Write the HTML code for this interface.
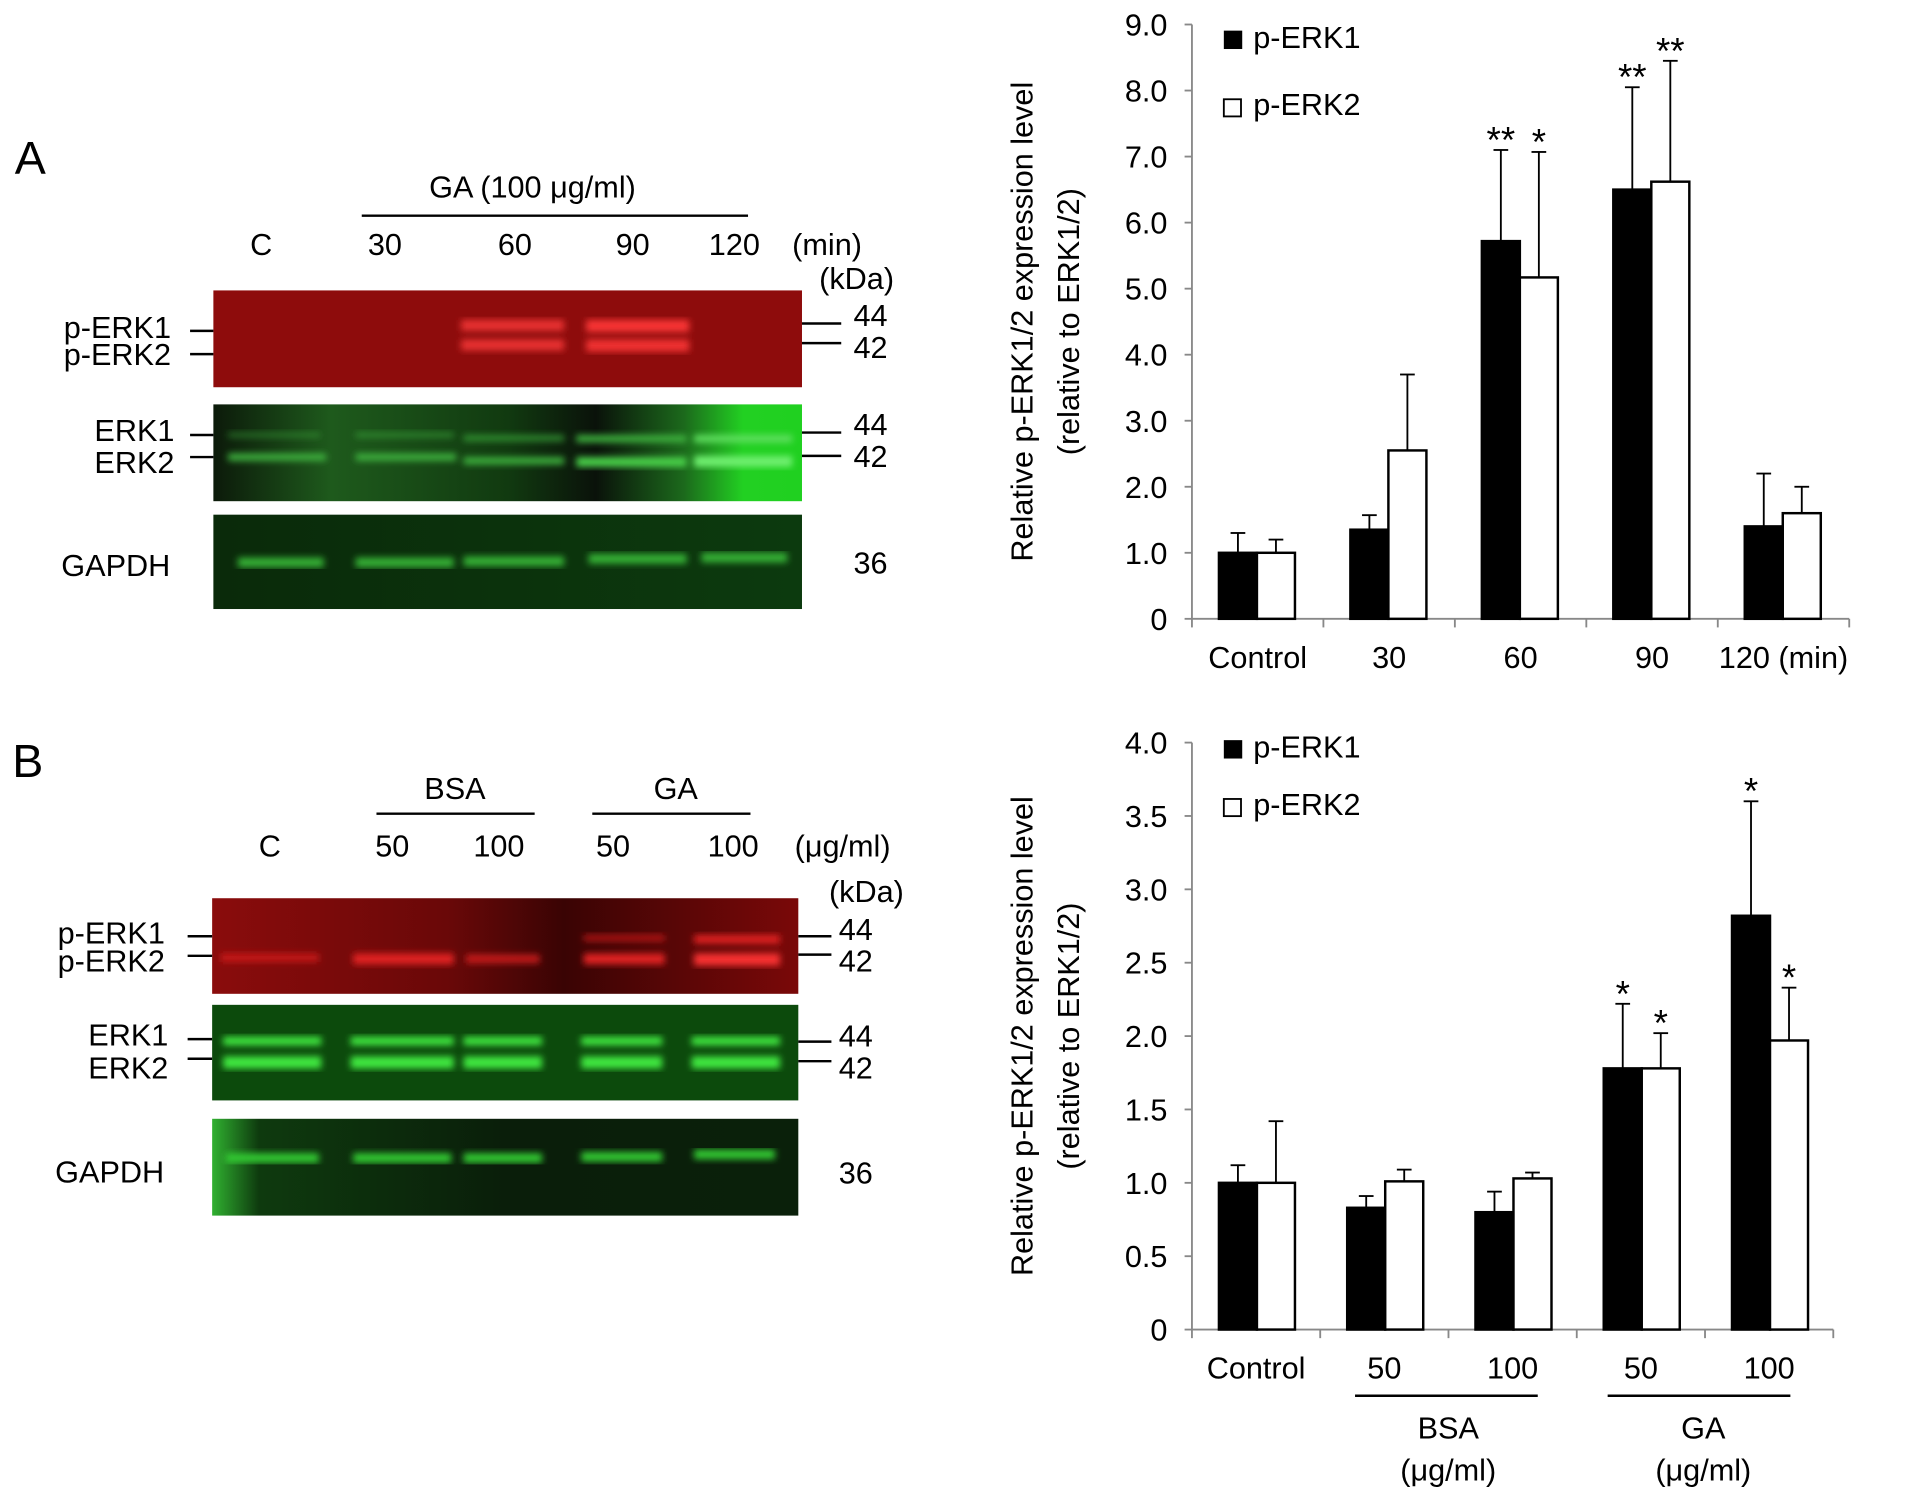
<!DOCTYPE html>
<html><head><meta charset="utf-8"><style>
html,body{margin:0;padding:0;background:#fff;}
svg{display:block;font-family:"Liberation Sans",sans-serif;}
</style></head><body>
<svg id="fig" width="1913" height="1495" viewBox="0 0 1560 1220" preserveAspectRatio="none" xmlns="http://www.w3.org/2000/svg">
<defs>
<filter id="blur2"><feGaussianBlur stdDeviation="2.8"/></filter>
<linearGradient id="gERKa" x1="0" x2="1" y1="0" y2="0">
<stop offset="0" stop-color="#0c1a0a"/><stop offset="0.2" stop-color="#1e5a1c"/><stop offset="0.5" stop-color="#113a10"/><stop offset="0.65" stop-color="#0a120a"/><stop offset="0.8" stop-color="#1c6a1c"/><stop offset="0.9" stop-color="#22d022"/><stop offset="1" stop-color="#20d020"/></linearGradient>
<linearGradient id="gGapA" x1="0" x2="1"><stop offset="0" stop-color="#0a2a0a"/><stop offset="1" stop-color="#0c3a0e"/></linearGradient>
<linearGradient id="gRedB" x1="0" x2="1"><stop offset="0" stop-color="#8a0c0c"/><stop offset="0.4" stop-color="#6a0808"/><stop offset="0.6" stop-color="#3a0404"/><stop offset="1" stop-color="#7a0808"/></linearGradient>
<linearGradient id="gGapB" x1="0" x2="1"><stop offset="0" stop-color="#30b030"/><stop offset="0.08" stop-color="#0e3a0e"/><stop offset="0.5" stop-color="#0a1e0a"/><stop offset="1" stop-color="#0a200a"/></linearGradient>
</defs>

<text x="12" y="142" font-size="38">A</text>
<text x="350" y="161" font-size="25">GA (100 μg/ml)</text>
<line x1="295" y1="176" x2="610" y2="176" stroke="#000" stroke-width="2"/>
<g font-size="25">
<text x="204" y="208">C</text><text x="300" y="208">30</text><text x="406" y="208">60</text><text x="502" y="208">90</text><text x="578" y="208">120</text><text x="646" y="208">(min)</text><text x="668" y="236">(kDa)</text>
</g>
<rect x="174" y="237" width="480" height="79" fill="#8e0c0c"/>
<g filter="url(#blur2)">
<rect x="376" y="261" width="84" height="9" fill="#e83030"/><rect x="376" y="277" width="84" height="9" fill="#e83030"/>
<rect x="478" y="261" width="84" height="10" fill="#f83434"/><rect x="478" y="277" width="84" height="10" fill="#f03030"/>
</g>
<rect x="174" y="330" width="480" height="79" fill="url(#gERKa)"/>
<g filter="url(#blur2)" fill="#3cb03c">
<rect x="186" y="353" width="75" height="4" opacity="0.5"/><rect x="186" y="370" width="80" height="6"/>
<rect x="290" y="353" width="80" height="4" opacity="0.6"/><rect x="290" y="370" width="82" height="6"/>
<rect x="378" y="355" width="82" height="5" opacity="0.7"/><rect x="378" y="373" width="82" height="6"/>
<rect x="470" y="355" width="90" height="6"/><rect x="470" y="373" width="90" height="8" fill="#48d048"/>
<rect x="566" y="355" width="80" height="6" fill="#60e060"/><rect x="566" y="372" width="80" height="9" fill="#70f070"/>
</g>
<rect x="174" y="420" width="480" height="77" fill="url(#gGapA)"/>
<g filter="url(#blur2)" fill="#34b034">
<rect x="194" y="455" width="70" height="8"/><rect x="290" y="455" width="80" height="8"/><rect x="378" y="454" width="82" height="8"/><rect x="480" y="452" width="80" height="8"/><rect x="572" y="451" width="70" height="8"/>
</g>
<g font-size="25">
<text x="52" y="276">p-ERK1</text><text x="52" y="298">p-ERK2</text>
<text x="77" y="360">ERK1</text><text x="77" y="386">ERK2</text>
<text x="50" y="470">GAPDH</text>
<text x="696" y="266">44</text><text x="696" y="292">42</text>
<text x="696" y="355">44</text><text x="696" y="381">42</text>
<text x="696" y="468">36</text>
</g>
<g stroke="#000" stroke-width="2">
<line x1="155" y1="270" x2="174" y2="270"/><line x1="155" y1="289" x2="174" y2="289"/>
<line x1="155" y1="355" x2="174" y2="355"/><line x1="155" y1="373" x2="174" y2="373"/>
<line x1="654" y1="264" x2="686" y2="264"/><line x1="654" y1="280" x2="686" y2="280"/>
<line x1="654" y1="353" x2="686" y2="353"/><line x1="654" y1="372" x2="686" y2="372"/>
</g>

<text x="10" y="634" font-size="38">B</text>
<g font-size="25">
<text x="346" y="652">BSA</text><text x="533" y="652">GA</text>
</g>
<line x1="307" y1="664" x2="436" y2="664" stroke="#000" stroke-width="2"/>
<line x1="483" y1="664" x2="612" y2="664" stroke="#000" stroke-width="2"/>
<g font-size="25">
<text x="211" y="699">C</text><text x="306" y="699">50</text><text x="386" y="699">100</text><text x="486" y="699">50</text><text x="577" y="699">100</text><text x="648" y="699">(μg/ml)</text><text x="676" y="736">(kDa)</text>
</g>
<rect x="173" y="733" width="478" height="78" fill="url(#gRedB)"/>
<g filter="url(#blur2)" fill="#e02020">
<rect x="180" y="778" width="80" height="7" opacity="0.7"/><rect x="288" y="778" width="82" height="9"/><rect x="380" y="779" width="60" height="7" opacity="0.8"/>
<rect x="476" y="763" width="66" height="5" opacity="0.7"/><rect x="476" y="778" width="66" height="9"/>
<rect x="566" y="763" width="70" height="7"/><rect x="566" y="778" width="70" height="10" fill="#f83030"/>
</g>
<rect x="173" y="820" width="478" height="78" fill="#0c4a0c"/>
<g filter="url(#blur2)" fill="#40e840">
<rect x="182" y="846" width="80" height="7"/><rect x="182" y="862" width="80" height="10"/>
<rect x="286" y="846" width="84" height="7"/><rect x="286" y="862" width="84" height="10"/>
<rect x="378" y="846" width="64" height="7"/><rect x="378" y="862" width="64" height="10"/>
<rect x="474" y="846" width="66" height="7"/><rect x="474" y="862" width="66" height="10"/>
<rect x="564" y="846" width="72" height="7"/><rect x="564" y="862" width="72" height="10"/>
</g>
<rect x="173" y="913" width="478" height="79" fill="url(#gGapB)"/>
<g filter="url(#blur2)" fill="#30c830">
<rect x="184" y="941" width="76" height="8"/><rect x="288" y="941" width="80" height="8"/><rect x="378" y="941" width="64" height="8"/><rect x="474" y="940" width="66" height="8"/><rect x="566" y="938" width="66" height="8"/>
</g>
<g font-size="25">
<text x="47" y="770">p-ERK1</text><text x="47" y="793">p-ERK2</text>
<text x="72" y="853">ERK1</text><text x="72" y="880">ERK2</text>
<text x="45" y="965">GAPDH</text>
<text x="684" y="767">44</text><text x="684" y="793">42</text>
<text x="684" y="854">44</text><text x="684" y="880">42</text>
<text x="684" y="966">36</text>
</g>
<g stroke="#000" stroke-width="2">
<line x1="153" y1="764" x2="173" y2="764"/><line x1="153" y1="780" x2="173" y2="780"/>
<line x1="153" y1="848" x2="173" y2="848"/><line x1="153" y1="864" x2="173" y2="864"/>
<line x1="651" y1="764" x2="678" y2="764"/><line x1="651" y1="779" x2="678" y2="779"/>
<line x1="651" y1="850" x2="678" y2="850"/><line x1="651" y1="866" x2="678" y2="866"/>
</g>

<g id="chartA"></g>
<g id="chartB"></g>
</svg>
<script>
// Chart A data
const catsA = ["Control","30","60","90","120 (min)"];
const erk1A = [1.0, 1.35, 5.72, 6.5, 1.4];
const erk2A = [1.0, 2.55, 5.17, 6.62, 1.6];
const err1A = [0.3, 0.22, 1.38, 1.55, 0.8];
const err2A = [0.2, 1.15, 1.9, 1.83, 0.4];
const star1A = ["", "", "**", "**", ""];
const star2A = ["", "", "*", "**", ""];
const ticksA = [0,1,2,3,4,5,6,7,8,9];
const tickLabelsA = ["0","1.0","2.0","3.0","4.0","5.0","6.0","7.0","8.0","9.0"];
// Chart B data
const catsB = ["Control","50","100","50","100"];
const erk1B = [1.0, 0.83, 0.8, 1.78, 2.82];
const erk2B = [1.0, 1.01, 1.03, 1.78, 1.97];
const err1B = [0.12, 0.08, 0.14, 0.44, 0.78];
const err2B = [0.42, 0.08, 0.04, 0.24, 0.36];
const star1B = ["", "", "", "*", "*"];
const star2B = ["", "", "", "*", "*"];
const ticksB = [0,0.5,1,1.5,2,2.5,3,3.5,4];
const tickLabelsB = ["0","0.5","1.0","1.5","2.0","2.5","3.0","3.5","4.0"];

const NS = "http://www.w3.org/2000/svg";
function mk(parent, tag, attrs, text){
  const e = document.createElementNS(NS, tag);
  for (const k in attrs) e.setAttribute(k, attrs[k]);
  if (text !== undefined) e.textContent = text;
  parent.appendChild(e);
  return e;
}
function draw(g, cfg){
  const {x0,x1,y0,y1,vmax,cats,s1,s2,e1,e2,st1,st2,ticks,tlabels} = cfg;
  const ys = v => y0 - (v / vmax) * (y0 - y1);
  const cw = (x1 - x0) / cats.length;
  const bw = 31;
  let ax = mk(g,'line',{x1:x0,y1:y1,x2:x0,y2:y0,stroke:'#888','stroke-width':1.5});
  
  
  let bx = mk(g,'line',{x1:x0,y1:y0,x2:x1,y2:y0,stroke:'#888','stroke-width':1.5});
  
  
  ticks.forEach((t,i)=>{
    const y = ys(t);
    const tk = mk(g,'line',{x1:x0-6,y1:y,x2:x0,y2:y,stroke:'#888','stroke-width':1.5});
    
    
    const lb = mk(g,'text',{x:x0-20,y:y+9,'font-size':25,'text-anchor':'end'}, tlabels[i]);
    
    
  });
  for (let i=0;i<=cats.length;i++){
    const x = x0 + i*cw;
    const tk = mk(g,'line',{x1:x,y1:y0,x2:x,y2:y0+7,stroke:'#888','stroke-width':1.5});
    
    
  }
  cats.forEach((c,i)=>{
    const bx1 = x0 + i*cw + 22, bx2 = bx1 + bw;
    const series = [[bx1,s1[i],e1[i],'#000',st1[i],'bar-perk1'],[bx2,s2[i],e2[i],'#fff',st2[i],'bar-perk2']];
    series.forEach(([bx,v,e,fill,st,nm])=>{
      const top = ys(v), et = ys(v+e), cx = bx + bw/2;
      const el = mk(g,'line',{x1:cx,y1:top,x2:cx,y2:et,stroke:'#000','stroke-width':1.5});
      
      
      const ec = mk(g,'line',{x1:cx-6,y1:et,x2:cx+6,y2:et,stroke:'#000','stroke-width':1.5});
      
      
      const r = mk(g,'rect',{x:bx,y:top,width:bw,height:y0-top,fill:fill,stroke:'#000','stroke-width':2});
      
      
      if (st){
        const s = mk(g,'text',{x:cx,y:et+2,'font-size':30,'text-anchor':'middle'}, st);
        
        
      }
    });
    const lbl = mk(g,'text',{x:x0+i*cw+cw/2,y:y0+40,'font-size':25,'text-anchor':'middle'}, c);
    
    
  });
  const lg = cfg.legendY;
  const l1 = mk(g,'rect',{x:998,y:lg-10,width:15,height:15,fill:'#000'});
  
  
  const t1 = mk(g,'text',{x:1022,y:lg+4,'font-size':25},'p-ERK1');
  
  
  const l2 = mk(g,'rect',{x:998,y:lg+cfg.legendGap-9,width:14,height:14,fill:'#fff',stroke:'#000','stroke-width':1.5});
  
  
  const t2 = mk(g,'text',{x:1022,y:lg+cfg.legendGap+4,'font-size':25},'p-ERK2');
  
  
  const cy = (y0+y1)/2;
  const yt = mk(g,'text',{x:0,y:0,'font-size':25,'text-anchor':'middle',transform:`translate(842,${cy}) rotate(-90)`},'Relative p-ERK1/2 expression level');
  
  
  const yt2 = mk(g,'text',{x:0,y:0,'font-size':25,'text-anchor':'middle',transform:`translate(880,${cy}) rotate(-90)`},'(relative to ERK1/2)');
  
  
}
draw(document.getElementById('chartA'),{x0:972,x1:1508,y0:505,y1:20,vmax:9,cats:catsA,s1:erk1A,s2:erk2A,e1:err1A,e2:err2A,st1:star1A,st2:star2A,ticks:ticksA,tlabels:tickLabelsA,legendY:35,legendGap:55});
draw(document.getElementById('chartB'),{x0:972,x1:1495,y0:1085,y1:606,vmax:4,cats:catsB,s1:erk1B,s2:erk2B,e1:err1B,e2:err2B,st1:star1B,st2:star2B,ticks:ticksB,tlabels:tickLabelsB,legendY:614,legendGap:47});
const gB = document.getElementById('chartB');
const bl = mk(gB,'line',{x1:1105,y1:1139,x2:1254,y2:1139,stroke:'#000','stroke-width':2});


const gl = mk(gB,'line',{x1:1311,y1:1139,x2:1460,y2:1139,stroke:'#000','stroke-width':2});


const btx = mk(gB,'text',{x:1181,y:1174,'font-size':25,'text-anchor':'middle'},'BSA');


const btu = mk(gB,'text',{x:1181,y:1208,'font-size':25,'text-anchor':'middle'},'(μg/ml)');


const gtx = mk(gB,'text',{x:1389,y:1174,'font-size':25,'text-anchor':'middle'},'GA');


const gtu = mk(gB,'text',{x:1389,y:1208,'font-size':25,'text-anchor':'middle'},'(μg/ml)');


</script>
</body></html>
